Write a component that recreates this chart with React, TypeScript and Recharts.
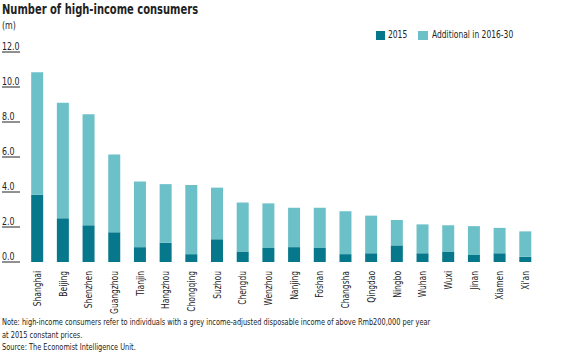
import { BarChart, Bar, XAxis, YAxis } from "recharts";

// --- Data ---
const cities = [
  "Shanghai", "Beijing", "Shenzhen", "Guangzhou", "Tianjin", "Hangzhou", "Chongqing",
  "Suzhou", "Chengdu", "Wenzhou", "Nanjing", "Foshan", "Changsha", "Qingdao",
  "Ningbo", "Wuhan", "Wuxi", "Jinan", "Xiamen", "Xi'an",
];
const base2015 = [
  3.85, 2.5, 2.1, 1.7, 0.85, 1.1, 0.45, 1.3, 0.6, 0.8,
  0.85, 0.8, 0.45, 0.5, 0.95, 0.5, 0.6, 0.4, 0.5, 0.3,
];
const additional = [
  7.0, 6.6, 6.35, 4.45, 3.75, 3.35, 3.95, 2.95, 2.8, 2.55,
  2.25, 2.3, 2.45, 2.15, 1.45, 1.65, 1.5, 1.65, 1.45, 1.45,
];
const yTicks = [0, 2, 4, 6, 8, 10, 12];

const data = cities.map((name, i) => ({
  name,
  base: base2015[i],
  extra: additional[i],
}));

// --- Colors / fonts ---
const DARK = "#07788b";
const LIGHT = "#6cc1c8";
const TEXT = "#222";
const FONT = "'DejaVu Sans Condensed', 'DejaVu Sans', sans-serif";

// squeeze text horizontally to mimic the narrow house font
const narrow = (k: number): React.CSSProperties => ({
  transform: `scaleX(${k})`,
  transformOrigin: "left top",
  whiteSpace: "nowrap",
});

const LeftTick = ({ y, payload }: any) => (
  <g>
    <text
      transform={`translate(2, ${y - 2}) scale(0.88, 1)`}
      fontSize={10}
      fill={TEXT}
      fontFamily={FONT}
      textAnchor="start"
    >
      {payload.value.toFixed(1)}
    </text>
    <line x1={2} x2={20} y1={y} y2={y} stroke={TEXT} strokeWidth={1} />
  </g>
);

const RightTick = ({ y, payload }: any) => (
  <g>
    <text
      transform={`translate(557, ${y - 2}) scale(0.88, 1)`}
      fontSize={10}
      fill={TEXT}
      fontFamily={FONT}
      textAnchor="end"
    >
      {payload.value.toFixed(1)}
    </text>
    <line x1={539} x2={557} y1={y} y2={y} stroke={TEXT} strokeWidth={1} />
  </g>
);

const CityTick = ({ x, y, payload }: any) => (
  <text
    transform={`translate(${x + 3.5}, ${y + 1}) rotate(-90) scale(0.84, 1)`}
    fontSize={10}
    fill={TEXT}
    fontFamily={FONT}
    textAnchor="end"
  >
    {payload.value}
  </text>
);

export default function App() {
  return (
    <div
      style={{
        position: "absolute",
        left: 0,
        top: 0,
        width: 564,
        height: 353,
        background: "#fff",
        fontFamily: FONT,
        color: TEXT,
      }}
    >
      <div style={{ position: "absolute", left: 2, top: 1, fontSize: 14, fontWeight: "bold", ...narrow(0.79) }}>
        Number of high-income consumers
      </div>
      <div style={{ position: "absolute", left: 2, top: 20, fontSize: 10, ...narrow(0.88) }}>(m)</div>

      {/* legend */}
      <div style={{ position: "absolute", left: 376, top: 31, width: 9, height: 9, background: DARK }} />
      <div style={{ position: "absolute", left: 388, top: 29, fontSize: 10, ...narrow(0.84) }}>2015</div>
      <div style={{ position: "absolute", left: 418, top: 31, width: 10, height: 9, background: LIGHT }} />
      <div style={{ position: "absolute", left: 432, top: 29, fontSize: 10, ...narrow(0.84) }}>
        Additional in 2016-30
      </div>

      <div style={{ position: "absolute", left: 0, top: 0 }}>
        <BarChart
          width={564}
          height={353}
          data={data}
          margin={{ top: 52, right: 0, bottom: 0, left: 0 }}
          barCategoryGap="26%"
        >
          <XAxis
            dataKey="name"
            axisLine={false}
            tickLine={false}
            interval={0}
            height={91}
            tick={<CityTick />}
          />
          <YAxis
            yAxisId="l"
            orientation="left"
            domain={[0, 12]}
            ticks={yTicks}
            width={24.5}
            axisLine={false}
            tickLine={false}
            tick={<LeftTick />}
          />
          <YAxis
            yAxisId="r"
            orientation="right"
            domain={[0, 12]}
            ticks={yTicks}
            width={25.7}
            axisLine={false}
            tickLine={false}
            tick={<RightTick />}
          />
          <Bar yAxisId="l" dataKey="base" stackId="a" fill={DARK} isAnimationActive={false} />
          <Bar yAxisId="l" dataKey="extra" stackId="a" fill={LIGHT} isAnimationActive={false} />
        </BarChart>
      </div>

      <div style={{ position: "absolute", left: 2, top: 316, fontSize: 9, lineHeight: "12.5px", ...narrow(0.815) }}>
        Note: high-income consumers refer to individuals with a grey income-adjusted disposable income of above Rmb200,000 per year
        <br />
        at 2015 constant prices.
        <br />
        Source: The Economist Intelligence Unit.
      </div>
    </div>
  );
}
